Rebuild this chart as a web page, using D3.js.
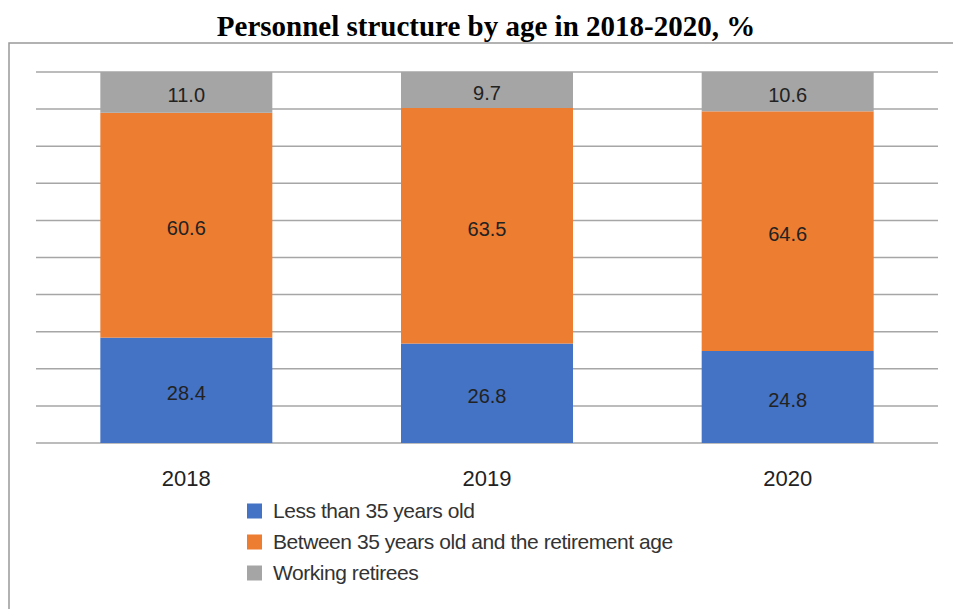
<!DOCTYPE html>
<html><head><meta charset="utf-8">
<script src="https://cdn.jsdelivr.net/npm/d3@7"></script>
<style>body{margin:0;background:#fff;}svg{display:block;}</style>
</head><body>
<script>
const years = ["2018", "2019", "2020"];
const seriesNames = ["Less than 35 years old", "Between 35 years old and the retirement age", "Working retirees"];
const lessThan35 = [28.4, 26.8, 24.8];
const between35AndRetirement = [60.6, 63.5, 64.6];
const workingRetirees = [11.0, 9.7, 10.6];
const gridTicks = [0, 10, 20, 30, 40, 50, 60, 70, 80, 90, 100];
const colors = ["#4472C4", "#ED7D31", "#A5A5A5"];

const W = 953, H = 609;
const svg = d3.select("body").append("svg").attr("width", W).attr("height", H);

// frame
svg.append("path").attr("d", "M9,609 V43 H953").attr("fill", "none").attr("stroke", "#999").attr("stroke-width", 1.5);

// title
svg.append("text").attr("x", 486).attr("y", 36).attr("text-anchor", "middle")
  .attr("font-family", "Liberation Serif, Times New Roman, serif").attr("font-weight", "bold")
  .attr("font-size", 29).attr("fill", "#000").text("Personnel structure by age in 2018-2020, %");

const x = d3.scaleBand().domain(years).range([36, 938]).paddingInner(0.428).paddingOuter(0.214);
const y = d3.scaleLinear().domain([0, 100]).range([443, 72]);

const g = svg.append("g");
g.selectAll("line.grid").data(gridTicks).join("line").attr("class", "grid")
  .attr("x1", 36).attr("x2", 938).attr("y1", d => y(d)).attr("y2", d => y(d))
  .attr("stroke", "#a6a6a6").attr("stroke-width", 1.5);

const table = years.map((yr, i) => ({year: yr, s0: lessThan35[i], s1: between35AndRetirement[i], s2: workingRetirees[i]}));
const stack = d3.stack().keys(["s0", "s1", "s2"])(table);

stack.forEach((layer, li) => {
  g.selectAll(null).data(layer).join("rect")
    .attr("x", d => x(d.data.year)).attr("width", x.bandwidth())
    .attr("y", d => y(d[1])).attr("height", d => y(d[0]) - y(d[1]))
    .attr("fill", colors[li]);
  g.selectAll(null).data(layer).join("text")
    .attr("x", d => x(d.data.year) + x.bandwidth() / 2)
    .attr("y", d => (y(d[0]) + y(d[1])) / 2 + 3)
    .attr("dy", "0.35em").attr("text-anchor", "middle")
    .attr("font-family", "Liberation Sans, Arial, sans-serif").attr("font-size", 20).attr("fill", "#222")
    .text(d => (d[1] - d[0]).toFixed(1));
});

// x axis labels
const xAxis = d3.axisBottom(x).tickSize(0).tickPadding(0);
const ax = svg.append("g").attr("transform", "translate(0,478)").call(xAxis);
ax.select(".domain").remove();
ax.selectAll("text").attr("font-family", "Liberation Sans, Arial, sans-serif").attr("font-size", 22)
  .attr("fill", "#222").attr("y", 0).attr("dy", "0.35em");

// legend
const leg = svg.append("g");
seriesNames.forEach((name, i) => {
  const yy = 511 + i * 31;
  leg.append("rect").attr("x", 247).attr("y", yy - 7.5).attr("width", 15).attr("height", 15).attr("fill", colors[i]);
  leg.append("text").attr("x", 273).attr("y", yy).attr("dy", "0.35em")
    .attr("font-family", "Liberation Sans, Arial, sans-serif").attr("font-size", 21).attr("letter-spacing", -0.45).attr("fill", "#333")
    .text(name);
});
</script>
</body></html>
